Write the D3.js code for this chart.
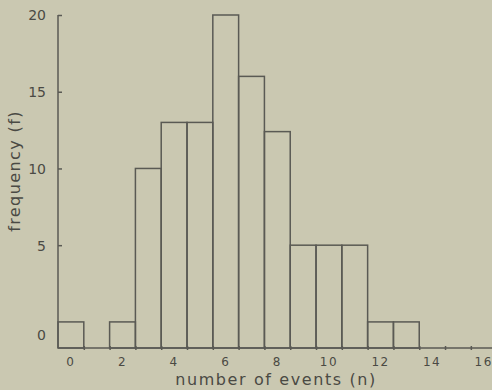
<!DOCTYPE html>
<html>
<head>
<meta charset="utf-8">
<script src="https://cdn.jsdelivr.net/npm/d3@7"></script>
<style>
  html, body { margin: 0; padding: 0; background: #cac8b1; }
  svg { display: block; }
  text { font-family: "DejaVu Sans", sans-serif; fill: #4a4a44; }
</style>
</head>
<body>
<svg id="chart" width="492" height="390"></svg>
<script>
// Data
const nValues   = [0, 1, 2, 3, 4, 5, 6, 7, 8, 9, 10, 11, 12, 13];
const frequency = [0, null, 0, 10, 13, 13, 20, 16, 12.4, 5, 5, 5, 0, 0];
const xTickValues = [0, 2, 4, 6, 8, 10, 12, 14, 16];
const xTickLabels = ["0", "2", "4", "6", "8", "10", "12", "14", "16"];
const yTickValues = [0, 5, 10, 15, 20];
const yTickLabels = ["0", "5", "10", "15", "20"];
const xTitle = "number of events (n)";
const yTitle = "frequency (f)";

(function () {
const W = 492, H = 390;
const mLeft = 58, mRight = 492, mTop = 15, mBottom = 348;
const ink = "#5a5a54";

const svg = d3.select("#chart");
svg.append("rect").attr("width", W).attr("height", H).attr("fill", "#cac8b1");

const x = d3.scaleLinear().domain([-0.5, 16.32]).range([mLeft, mRight]);
const y = d3.scaleLinear().domain([-1.7, 20]).range([mBottom, mTop]);

// Bars
const bars = nValues.map((n, i) => ({ n, f: frequency[i] })).filter(d => d.f !== null);
svg.append("g").selectAll("rect").data(bars).join("rect")
  .attr("x", d => x(d.n - 0.5))
  .attr("width", d => x(d.n + 0.5) - x(d.n - 0.5))
  .attr("y", d => y(d.f))
  .attr("height", d => y(-1.7) - y(d.f))
  .attr("fill", "none")
  .attr("stroke", ink)
  .attr("stroke-width", 1.5);

// X axis line with small ticks at bin edges
const edgeTicks = d3.range(0.5, 16, 1);
const xAxis = d3.axisBottom(x).tickValues(edgeTicks).tickSize(2).tickFormat("");
const gx = svg.append("g").attr("transform", `translate(0,${mBottom})`).call(xAxis);
gx.select(".domain").attr("stroke", ink).attr("stroke-width", 1.5).attr("d", `M${mLeft},0H${mRight}`);
gx.selectAll(".tick line").attr("stroke", ink).attr("stroke-width", 1.5).attr("y1", -2).attr("y2", 2);

// X tick labels
svg.append("g").selectAll("text").data(xTickValues).join("text")
  .attr("x", d => x(d))
  .attr("y", 366)
  .attr("text-anchor", "middle")
  .attr("font-size", 12)
  .attr("letter-spacing", 1.5)
  .text((d, i) => xTickLabels[i]);

// Y axis
const yAxis = d3.axisLeft(y).tickValues(yTickValues).tickSize(0).tickPadding(0).tickFormat((d, i) => yTickLabels[i]);
const gy = svg.append("g").attr("transform", `translate(${mLeft},0)`).call(yAxis);
gy.select(".domain").attr("stroke", ink).attr("stroke-width", 1.5).attr("d", `M0,${mTop}V${mBottom}`);
gy.selectAll(".tick line").attr("stroke", ink).attr("stroke-width", 1.5).attr("x1", 0).attr("x2", 4)
  .filter(d => d === 0).remove();
gy.selectAll(".tick text")
  .attr("font-size", 14)
  .attr("fill", "#4a4a44")
  .attr("text-anchor", "end")
  .attr("x", -12)
  .attr("dy", d => d === 0 ? "1.25em" : "0.35em")
  .style("font-family", '"DejaVu Sans", sans-serif');

// Axis titles
svg.append("text")
  .attr("x", 276).attr("y", 385)
  .attr("text-anchor", "middle")
  .attr("font-size", 16)
  .attr("letter-spacing", 1.6)
  .text(xTitle);

svg.append("text")
  .attr("transform", "translate(20,171) rotate(-90)")
  .attr("text-anchor", "middle")
  .attr("font-size", 16)
  .attr("letter-spacing", 1.4)
  .text(yTitle);
})();
</script>
</body>
</html>
